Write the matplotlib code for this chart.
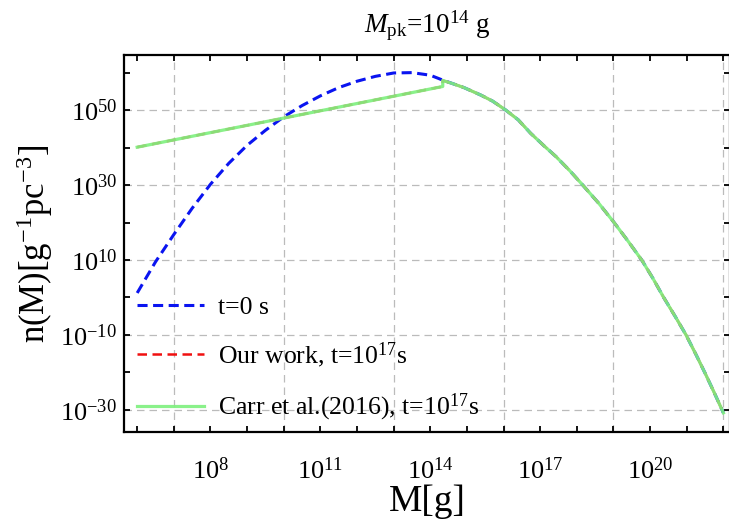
import numpy as np
import matplotlib
matplotlib.use("Agg")
import matplotlib.pyplot as plt
from matplotlib.ticker import FixedLocator, FixedFormatter, NullLocator

plt.rcParams['font.family'] = ['Liberation Serif', 'DejaVu Serif']
plt.rcParams['mathtext.fontset'] = 'custom'
plt.rcParams['mathtext.rm'] = 'Liberation Serif'
plt.rcParams['mathtext.it'] = 'Liberation Serif:italic'

# values, log10 M [g] and log10 n
logM_t0 = [6.0, 6.5, 7.0, 7.5, 8.0, 8.5, 9.0, 9.5, 10.0, 10.5, 11.0, 11.5,
           12.0, 12.5, 13.0, 13.5, 14.0, 14.34, 14.6, 14.92, 15.38, 15.7, 16.06,
           16.4, 16.74, 17.1, 17.43, 17.8, 18.16, 18.6, 19.0, 19.4, 19.77,
           20.07, 20.37, 20.68, 20.98, 21.25, 21.5, 21.75, 22.0]
logn_t0 = [1.2, 9.5, 16.8, 23.8, 30.2, 35.8, 40.6, 44.6, 48.2, 51.2, 53.8, 56.0,
           57.7, 59.0, 59.9, 60.0, 59.3, 58.0, 57.1, 56.0, 54.0, 52.4, 50.0,
           47.4, 43.8, 40.5, 37.6, 33.9, 30.0, 25.1, 20.2, 15.0, 10.0,
           5.2, 0.0, -5.0, -10.0, -15.2, -20.2, -25.4, -30.8]

logM_t17 = [6.0, 14.34, 14.34, 14.6, 14.92, 15.38, 15.7, 16.06, 16.4, 16.74, 17.1,
            17.43, 17.8, 18.16, 18.6, 19.0, 19.4, 19.77, 20.07, 20.37, 20.68,
            20.98, 21.25, 21.5, 21.75, 22.0]
logn_t17 = [40.1, 56.3, 57.9, 57.1, 56.0, 54.0, 52.4, 50.0, 47.4, 43.8, 40.5,
            37.6, 33.9, 30.0, 25.1, 20.2, 15.0, 10.0, 5.2, 0.0, -5.0,
            -10.0, -15.2, -20.2, -25.4, -30.8]

x_labels = [8, 11, 14, 17, 20]
y_labels = [50, 30, 10, -10, -30]

M0 = 10.0 ** np.array(logM_t0)
n0 = 10.0 ** np.array(logn_t0)
M17 = 10.0 ** np.array(logM_t17)
n17 = 10.0 ** np.array(logn_t17)

fig = plt.figure(figsize=(7.29, 5.21), dpi=100)
ax = fig.add_axes([124/729, 1-432/521, (730-124)/729, (432-55)/521])

ax.plot(M0, n0, color='#0a14f0', lw=2.2, ls=(0, (3.3, 1.8)), label='t=0 s', zorder=3)
ax.plot(M17, n17, color='#f01010', lw=1.8, ls=(0, (3.8, 2.2)),
        label=r'Our work, t=$10^{17}$s', zorder=4)
ax.plot(M17, n17, color='#80f080', lw=2.3, alpha=0.92,
        label=r'Carr et al.(2016), t=$10^{17}$s', zorder=5)

ax.set_xscale('log')
ax.set_yscale('log')
ax.set_xlim(10**5.64, 10**22.18)
ax.set_ylim(10**-35.9, 10**64.7)

# ticks
xt = [10.0**k for k in range(6, 23)]
ax.xaxis.set_major_locator(FixedLocator(xt))
ax.xaxis.set_major_formatter(FixedFormatter(
    [r'$10^{%d}$' % k if k in x_labels else '' for k in range(6, 23)]))
ax.xaxis.set_minor_locator(NullLocator())
yt = [10.0**k for k in range(-30, 61, 10)]
ax.yaxis.set_major_locator(FixedLocator(yt))
ax.yaxis.set_major_formatter(FixedFormatter(
    [r'$10^{%d}$' % k if k in y_labels else '' for k in range(-30, 61, 10)]))
ax.yaxis.set_minor_locator(NullLocator())
ax.tick_params(direction='in', top=True, right=True, length=4.5, width=1.3,
               labelsize=19)
ax.tick_params(axis='x', pad=18)
ax.tick_params(axis='y', pad=5)
for s in ax.spines.values():
    s.set_linewidth(1.6)

# grid lines at their own positions
for k in range(7, 23, 3):
    ax.axvline(10.0**k, color='#bbbbbb', lw=0.9, ls=(0, (6, 4)), zorder=1)
for k in y_labels:
    ax.axhline(10.0**k, color='#bbbbbb', lw=0.9, ls=(0, (6, 4)), zorder=1)

ax.set_title(r'$M_{\mathrm{pk}}$=$10^{14}$ g', fontsize=19.5, pad=16)
ax.set_xlabel('M[g]', fontsize=27, labelpad=1)
ax.set_ylabel(r'n(M)[g$^{-1}$pc$^{-3}$]', fontsize=25, labelpad=4)

ax.legend(loc='lower left', frameon=False, fontsize=18.5, handlelength=2.6,
          handletextpad=0.55, labelspacing=0.85, borderaxespad=0.0,
          bbox_to_anchor=(0.004, -0.004))

fig.savefig('out.png', dpi=100)
